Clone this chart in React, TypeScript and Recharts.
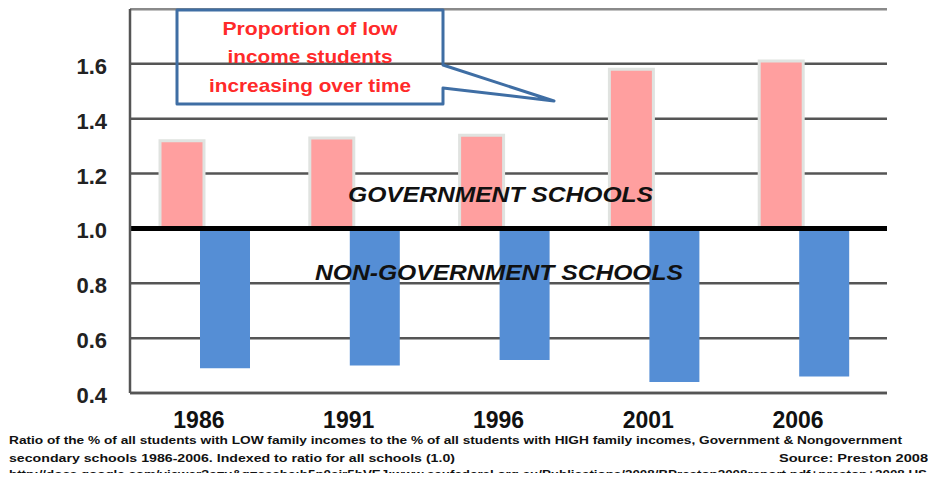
import React from 'react';
import { BarChart, Bar, XAxis, YAxis, CartesianGrid, ReferenceLine } from 'recharts';

const years = ['1986', '1991', '1996', '2001', '2006'];
const governmentRatio = [1.32, 1.33, 1.34, 1.58, 1.61];
const nonGovernmentRatio = [0.49, 0.5, 0.52, 0.44, 0.46];
const baseline = 1.0;
const yTicks = [0.4, 0.6, 0.8, 1.0, 1.2, 1.4, 1.6, 1.8];

const data = years.map((year, i) => ({
  year,
  gov: [baseline, governmentRatio[i]],
  nongov: [nonGovernmentRatio[i], baseline],
}));

const FONT = '"Liberation Sans", Arial, sans-serif';

const XTick = (props: any) => {
  const { x, y, payload } = props;
  return (
    <text x={x - 6} y={y + 35} textAnchor="middle" fontFamily={FONT} fontWeight="bold" fontSize={23} fill="#111">
      {payload.value}
    </text>
  );
};

const YTick = (props: any) => {
  const { x, y, payload } = props;
  if (payload.value > 1.7) return null;
  return (
    <text x={x} y={y + 10} textAnchor="end" fontFamily={FONT} fontWeight="bold" fontSize={22} fill="#222">
      {Number(payload.value).toFixed(1)}
    </text>
  );
};

export default function App() {
  return (
    <div style={{ margin: -8, position: 'relative', width: 936, height: 481, background: '#fff', overflow: 'hidden' }}>
      <BarChart
        width={936}
        height={481}
        data={data}
        margin={{ top: 9, right: 49, bottom: 58, left: 0 }}
        barGap={-4}
      >
        <CartesianGrid vertical={false} stroke="#555" strokeWidth={2.5} />
        <XAxis
          dataKey="year"
          height={30}
          tickLine={false}
          tickSize={0}
          tickMargin={0}
          interval={0}
          padding={{ left: 0, right: 8 }}
          axisLine={{ stroke: '#555', strokeWidth: 2.5 }}
          tick={<XTick />}
        />
        <YAxis
          width={130}
          domain={[0.4, 1.8]}
          ticks={yTicks}
          tickLine={false}
          tickSize={0}
          tickMargin={23}
          axisLine={{ stroke: '#555', strokeWidth: 2.5 }}
          tick={<YTick />}
          allowDataOverflow
        />
        <YAxis
          yAxisId="frame"
          orientation="right"
          width={0}
          domain={[0, 1]}
          tick={false}
          tickLine={false}
          axisLine={{ stroke: '#555', strokeWidth: 3 }}
        />
        <ReferenceLine y={1.8} stroke="#8a8a8a" strokeWidth={2.5} />
        <Bar dataKey="gov" barSize={44} fill="#FF9F9F" stroke="#e0e3e0" strokeWidth={3} isAnimationActive={false} />
        <Bar dataKey="nongov" barSize={50} fill="#558ED5" isAnimationActive={false} />
        <ReferenceLine y={baseline} stroke="#000" strokeWidth={5} />
      </BarChart>
      <svg width={936} height={481} style={{ position: 'absolute', left: 0, top: 0, pointerEvents: 'none' }}>
        <path
          d="M177,10 L443,10 L443,65 L554,101 L443,88 L443,104 L177,104 Z"
          fill="none"
          stroke="#3F6EA4"
          strokeWidth={3}
          strokeLinejoin="round"
        />
        <g fontFamily={FONT} fontWeight="bold" fontSize={19} fill="#FF2A2A" textAnchor="middle">
          <text x={310} y={35} textLength={175} lengthAdjust="spacingAndGlyphs">Proportion of low</text>
          <text x={310} y={63} textLength={165} lengthAdjust="spacingAndGlyphs">income students</text>
          <text x={310} y={92} textLength={202} lengthAdjust="spacingAndGlyphs">increasing over time</text>
        </g>
        <g fontFamily={FONT} fontWeight="bold" fontStyle="italic" fontSize={22} fill="#111">
          <text x={348} y={202} textLength={305} lengthAdjust="spacingAndGlyphs">GOVERNMENT SCHOOLS</text>
          <text x={315} y={280} textLength={368} lengthAdjust="spacingAndGlyphs">NON-GOVERNMENT SCHOOLS</text>
        </g>
        <g fontFamily={FONT} fontWeight="bold" fontSize={11.5} fill="#111">
          <text x={9} y={444} textLength={893} lengthAdjust="spacingAndGlyphs">
            Ratio of the % of all students with LOW family incomes to the % of all students with HIGH family incomes, Government &amp; Nongovernment
          </text>
          <text x={9} y={462} textLength={446} lengthAdjust="spacingAndGlyphs">
            secondary schools 1986-2006. Indexed to ratio for all schools (1.0)
          </text>
          <text x={928} y={462} textAnchor="end" textLength={149} lengthAdjust="spacingAndGlyphs">
            Source: Preston 2008
          </text>
          <text x={9} y={478} textLength={918} lengthAdjust="spacingAndGlyphs">
            http://docs.google.com/viewer?a=v&amp;q=cache:h5p0ajr5hVEJ:www.aeufederal.org.au/Publications/2008/BPreston2008report.pdf+preston+2008 US
          </text>
        </g>
      </svg>
    </div>
  );
}
